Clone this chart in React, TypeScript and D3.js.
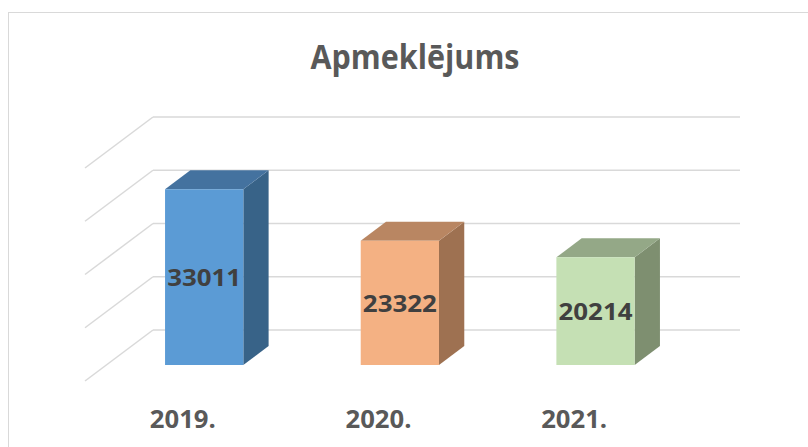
import React from "react";
import * as d3 from "d3";

const categories = ["2019.", "2020.", "2021."];
const values = [33011, 23322, 20214];
const tickValues = [0, 10000, 20000, 30000, 40000];
const titleText = "Apmeklējums";

const frontColors = ["#5B9BD5", "#F4B183", "#C5E0B4"];
const topColors = ["#44729F", "#B98662", "#94A887"];
const sideColors = ["#386388", "#9E7151", "#7E8F70"];

const W = 808;
const H = 447;
const DX = -68; // floor depth vector (back -> front)
const DY = 51;
const ZF = 0.686; // bar front depth
const ZB = 0.314; // bar back depth

export default function App() {
  const x = d3
    .scaleBand<string>()
    .domain(categories)
    .range([153, 740])
    .paddingInner(0.6)
    .paddingOuter(0.3);
  const xc = d3.scaleBand<string>().domain(categories).range([153, 740]);
  const y = d3.scaleLinear().domain([0, 40000]).range([330, 117]);

  const proj = (xb: number, yb: number, z: number): [number, number] => [
    xb + DX * z,
    yb + DY * z,
  ];
  const poly = (pts: [number, number][]) =>
    pts.map((p) => `${p[0].toFixed(2)},${p[1].toFixed(2)}`).join(" ");

  const font = "'Open Sans', Lato, sans-serif";

  return (
    <svg
      width={W}
      height={H}
      style={{ position: "absolute", left: 0, top: 0, display: "block" }}
    >
      <rect x={0} y={0} width={W} height={H} fill="#ffffff" />
      <rect
        x={8.5}
        y={12.5}
        width={W + 20}
        height={H + 20}
        fill="#ffffff"
        stroke="#d9d9d9"
        strokeWidth={1}
      />
      <text
        x={415}
        y={69}
        textAnchor="middle"
        fontFamily={font}
        fontWeight={700}
        fontSize={34}
        fill="#595959"
        textLength={209}
        lengthAdjust="spacingAndGlyphs"
      >
        {titleText}
      </text>
      <g stroke="#d9d9d9" strokeWidth={1.5} fill="none">
        {tickValues.map((t) => (
          <g key={t}>
            <line x1={153} x2={740} y1={y(t)} y2={y(t)} />
            <line
              x1={153}
              y1={y(t)}
              x2={proj(153, y(t), 1)[0]}
              y2={proj(153, y(t), 1)[1]}
            />
          </g>
        ))}
      </g>
      {categories.map((c, i) => {
        const x0 = x(c)!;
        const x1 = x0 + x.bandwidth();
        const yt = y(values[i]);
        const y0 = y(0);
        const front = [
          proj(x0, yt, ZF),
          proj(x1, yt, ZF),
          proj(x1, y0, ZF),
          proj(x0, y0, ZF),
        ] as [number, number][];
        const top = [
          proj(x0, yt, ZF),
          proj(x1, yt, ZF),
          proj(x1, yt, ZB),
          proj(x0, yt, ZB),
        ] as [number, number][];
        const side = [
          proj(x1, yt, ZF),
          proj(x1, yt, ZB),
          proj(x1, y0, ZB),
          proj(x1, y0, ZF),
        ] as [number, number][];
        const cx = (front[0][0] + front[1][0]) / 2;
        const cy = (front[0][1] + front[2][1]) / 2;
        return (
          <g key={c}>
            <polygon points={poly(side)} fill={sideColors[i]} />
            <polygon points={poly(top)} fill={topColors[i]} />
            <polygon points={poly(front)} fill={frontColors[i]} />
            <text
              x={cx}
              y={cy}
              dy="0.36em"
              textAnchor="middle"
              fontFamily={font}
              fontWeight={700}
              fontSize={24}
              fill="#404040"
              textLength={74}
              lengthAdjust="spacingAndGlyphs"
            >
              {values[i]}
            </text>
          </g>
        );
      })}
      {categories.map((c) => {
        const [lx] = proj(xc(c)! + xc.bandwidth() / 2, y(0), 1);
        return (
          <text
            key={c}
            x={lx}
            y={428}
            textAnchor="middle"
            fontFamily={font}
            fontWeight={700}
            fontSize={25}
            fill="#595959"
            textLength={66}
            lengthAdjust="spacingAndGlyphs"
          >
            {c}
          </text>
        );
      })}
    </svg>
  );
}
